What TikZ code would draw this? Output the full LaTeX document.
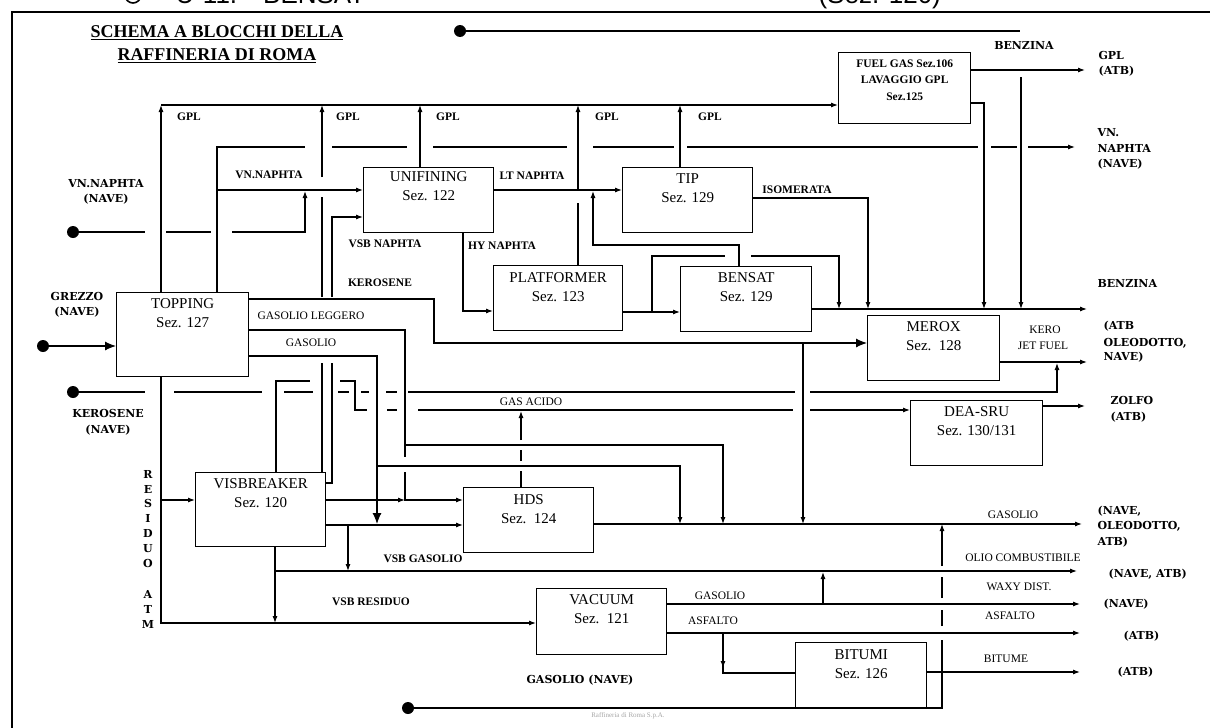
\documentclass[tikz,border=0pt]{standalone}
\usepackage{fontspec}
\setmainfont{Liberation Serif}
\newfontfamily\heavyfont{DejaVu Serif}
\newfontfamily\topfont{Liberation Sans}
\usetikzlibrary{arrows.meta}
\begin{document}
\begin{tikzpicture}[x=1pt,y=-1pt,line width=1.1pt,
  box/.style={draw,line width=1.4pt,inner sep=0pt,anchor=north west},
  btxt/.style={align=center,anchor=north,inner sep=0pt,font=\fontsize{15}{19.5}\selectfont},
  arr/.style={-{Latex[length=7pt,width=5pt]}},
  bigarr/.style={-{Latex[length=11pt,width=9pt]}},
  fl/.style={inner sep=0pt,anchor=mid,font=\fontsize{11.5}{13}\selectfont},
  flb/.style={inner sep=0pt,anchor=mid,font=\fontsize{11.5}{13}\selectfont\bfseries},
  pl/.style={inner sep=0pt,anchor=mid west,font=\heavyfont\bfseries\fontsize{11}{13}\selectfont},
  plc/.style={pl,anchor=mid},
  dot/.style={circle,fill,inner sep=0pt,minimum size=12pt}]
\clip (0,0) rectangle (1210,728);
\useasboundingbox (0,0) rectangle (1210,728);

% frame and cut header
\draw[line width=2pt] (12,728) -- (12,12) -- (1210,12);
\draw[line width=1.6pt] (133,-5) circle (8pt);
\node[anchor=base west,inner sep=0pt,font=\topfont\fontsize{26}{26}\selectfont] (hd1) at (175,4) {U-11.\quad BENSAT};
\node[anchor=base west,inner sep=0pt,font=\topfont\fontsize{26}{26}\selectfont] (hd2) at (818,4) {(Sez. 120)};

% title
\node[inner sep=0pt,anchor=mid,font=\bfseries\fontsize{18}{20}\selectfont] (t1) at (217,35) {\underline{SCHEMA A BLOCCHI DELLA}};
\node[inner sep=0pt,anchor=mid,font=\bfseries\fontsize{18}{20}\selectfont] (t2) at (217,58) {\underline{RAFFINERIA DI ROMA}};

% boxes
\node[box,minimum width=132pt,minimum height=84pt] (top) at (116,292) {};
\node[btxt] at ([yshift=-6pt]top.north) {TOPPING\\Sez. 127};
\node[box,minimum width=130pt,minimum height=65pt] (uni) at (363,167) {};
\node[btxt] at ([yshift=-4pt]uni.north) {UNIFINING\\Sez. 122};
\node[box,minimum width=130pt,minimum height=65pt] (tip) at (622,167) {};
\node[btxt] at ([yshift=-6pt]tip.north) {TIP\\Sez. 129};
\node[box,minimum width=129pt,minimum height=65pt] (plat) at (493,265) {};
\node[btxt] at ([yshift=-7pt]plat.north) {PLATFORMER\\Sez. 123};
\node[box,minimum width=131pt,minimum height=65pt] (bens) at (680,266) {};
\node[btxt] at ([yshift=-6pt]bens.north) {BENSAT\\Sez. 129};
\node[box,minimum width=132pt,minimum height=71pt] (fg) at (838,52) {};
\node[align=center,anchor=north,inner sep=0pt,font=\bfseries\fontsize{11.5}{16.5}\selectfont] at ([yshift=-7pt]fg.north) {FUEL GAS Sez.106\\LAVAGGIO GPL\\Sez.125};
\node[box,minimum width=132pt,minimum height=65pt] (mer) at (867,315) {};
\node[btxt] at ([yshift=-6pt]mer.north) {MEROX\\Sez.\ \ 128};
\node[box,minimum width=132pt,minimum height=65pt] (dea) at (910,400) {};
\node[btxt] at ([yshift=-6pt]dea.north) {DEA-SRU\\Sez. 130/131};
\node[box,minimum width=130pt,minimum height=74pt] (vis) at (195,472) {};
\node[btxt] at ([yshift=-6pt]vis.north) {VISBREAKER\\Sez. 120};
\node[box,minimum width=130pt,minimum height=65pt] (hds) at (463,487) {};
\node[btxt] at ([yshift=-7pt]hds.north) {HDS\\Sez.\ \ 124};
\node[box,minimum width=130pt,minimum height=66pt] (vac) at (536,588) {};
\node[btxt] at ([yshift=-6pt]vac.north) {VACUUM\\Sez.\ \ 121};
\node[box,minimum width=131pt,minimum height=66pt] (bit) at (795,642) {};
\node[btxt] at ([yshift=-7pt]bit.north) {BITUMI\\Sez. 126};

% dots
\node[dot] (d1) at (460,31) {};
\node[dot] (d2) at (73,232) {};
\node[dot] (d3) at (73,392) {};
\node[dot] (d4) at (408,708) {};
\node[dot] (d5) at (43,346) {};

% benzina line at top
\draw (d1.center) -- (1020,31);
\draw[arr] (1021,77) -- (1021,309);

% GPL header
\draw[arr] (161,292) -- (161,105);
\draw[arr] (161,105) -- (838,105);
\draw[arr] (322,472) -- (322,363) (322,297) -- (322,197) (322,177) -- (322,105);
\draw[arr] (420,167) -- (420,105);
\draw[arr] (578,265) -- (578,203) (578,190) -- (578,105);
\draw[arr] (680,167) -- (680,105);

% topping naphtha
\draw[arr] (217,292) -- (217,147) -- (305,147) (332,147) -- (407,147) (433,147) -- (567,147)
  (593,147) -- (674,147) (687,147) -- (978,147) (991,147) -- (1017,147) (1028,147) -- (1075,147);
\draw[arr] (217,190) -- (363,190);
\draw[arr] (d2.center) -- (145,232) (166,232) -- (211,232) (232,232) -- (305,232) -- (305,191);

% vsb naphta
\draw[arr] (325,483) -- (332,483) -- (332,363) (332,297) -- (332,217) -- (363,217);

% gas acido
\draw[arr] (276,472) -- (276,381) -- (310,381) (340,381) -- (355,381) -- (355,410) -- (367,410)
  (387,410) -- (397,410) (418,410) -- (793,410) (810,410) -- (910,410);
\draw[arr] (521,487) -- (521,471) (521,461) -- (521,450) (521,440) -- (521,411);

% kerosene nave
\draw[arr] (d3.center) -- (145,392) (174,392) -- (262,392) (284,392) -- (313,392) (338,392) -- (349,392)
  (361,392) -- (369,392) (386,392) -- (397,392) (408,392) -- (795,392) (810,392) -- (1057,392) -- (1057,363);

% grezzo
\draw[bigarr] (d5.center) -- (116,346);

% topping right outputs
\draw[bigarr] (248,299) -- (434,299) -- (434,343) -- (867,343);
\draw[arr] (248,330) -- (405,330) -- (405,457) (405,472) -- (405,500) -- (463,500);
\draw[bigarr] (248,356) -- (377,356) -- (377,524);
\draw[arr] (405,445) -- (723,445) -- (723,524);
\draw[arr] (377,466) -- (680,466) -- (680,524);
\draw[arr] (803,343) -- (803,524);

% residuo / visbreaker
\draw[arr] (161,376) -- (161,623) -- (536,623);
\draw[arr] (161,500) -- (195,500);
\draw[arr] (325,500) -- (405,500);
\draw[arr] (325,525) -- (463,525);
\draw[arr] (348,525) -- (348,571);
\draw[arr] (275,546) -- (275,623);
\draw[arr] (275,571) -- (1077,571);

% HDS output
\draw[arr] (593,524) -- (1082,524);

% unifining / tip / platformer / bensat
\draw[arr] (493,190) -- (622,190);
\draw[arr] (463,232) -- (463,311) -- (493,311);
\draw[arr] (739,266) -- (739,245) -- (593,245) -- (593,191);
\draw[arr] (752,198) -- (868,198) -- (868,309);
\draw[arr] (622,312) -- (680,312);
\draw[arr] (652,312) -- (652,256) -- (725,256) (751,256) -- (839,256) -- (839,309);
\draw[arr] (811,309) -- (1087,309);

% fuel gas
\draw[arr] (970,70) -- (1085,70);
\draw[arr] (970,103) -- (984,103) -- (984,309);

% merox, dea
\draw[arr] (999,362) -- (1087,362);
\draw[arr] (1042,406) -- (1085,406);

% vacuum / bitumi
\draw[arr] (666,604) -- (1080,604);
\draw[arr] (823,604) -- (823,572);
\draw[arr] (666,633) -- (1080,633);
\draw (723,633) -- (723,673) -- (795,673);
\draw[arr] (723,633) -- (723,668);
\draw[arr] (926,672) -- (1080,672);
\draw[arr] (d4.center) -- (942,708) -- (942,640) (942,626) -- (942,610) (942,598) -- (942,577) (942,566) -- (942,524);

% flow labels
\foreach \xx in {189,348,448,607,710} {\node[flb] at (\xx,118) {GPL};}
\node[flb] at (269,176) {VN.NAPHTA};
\node[flb] at (532,177) {LT NAPHTA};
\node[flb] at (797,191) {ISOMERATA};
\node[flb] at (385,245) {VSB NAPHTA};
\node[flb] at (502,247) {HY NAPHTA};
\node[flb] at (380,284) {KEROSENE};
\node[fl] at (311,317) {GASOLIO LEGGERO};
\node[fl] at (311,344) {GASOLIO};
\node[fl] at (531,403) {GAS ACIDO};
\node[flb] at (423,560) {VSB GASOLIO};
\node[flb] at (371,603) {VSB RESIDUO};
\node[fl] at (720,597) {GASOLIO};
\node[fl] at (713,622) {ASFALTO};
\node[fl] at (1013,516) {GASOLIO};
\node[fl] at (1023,559) {OLIO COMBUSTIBILE};
\node[fl] at (1019,588) {WAXY DIST.};
\node[fl] at (1010,617) {ASFALTO};
\node[fl] at (1006,660) {BITUME};
\node[fl] at (1045,331) {KERO};
\node[fl] at (1043,347) {JET FUEL};

% product labels
\node[plc] at (1024,47) {BENZINA};
\node[pl] at (1098,57) {GPL};
\node[pl] at (1098,72) {(ATB)};
\node[pl] at (1097,134) {VN.};
\node[pl] at (1097,150) {NAPHTA};
\node[pl] at (1097,165) {(NAVE)};
\node[pl] at (1097,285) {BENZINA};
\node[pl] at (1103,327) {(ATB};
\node[pl] at (1103,344) {OLEODOTTO,};
\node[pl] at (1103,358) {NAVE)};
\node[pl] at (1110,402) {ZOLFO};
\node[pl] at (1110,418) {(ATB)};
\node[pl] at (1097,512) {(NAVE,};
\node[pl] at (1097,527) {OLEODOTTO,};
\node[pl] at (1097,543) {ATB)};
\node[pl] at (1108,575) {(NAVE, ATB)};
\node[pl] at (1103,605) {(NAVE)};
\node[pl] at (1123,637) {(ATB)};
\node[pl] at (1117,673) {(ATB)};
\node[plc] at (106,185) {VN.NAPHTA};
\node[plc] at (106,200) {(NAVE)};
\node[plc] at (77,298) {GREZZO};
\node[plc] at (77,313) {(NAVE)};
\node[plc] at (108,415) {KEROSENE};
\node[plc] at (108,431) {(NAVE)};
\node[plc] at (580,681) {GASOLIO (NAVE)};
\foreach \ch/\yy in {R/476,E/491,S/505,I/520,D/535,U/550,O/565,A/596,T/611,M/626}
  {\node[plc] at (148,\yy) {\ch};}
\node[inner sep=0pt,font=\fontsize{7}{8}\selectfont,text=black!35] (wm) at (628,716) {Raffineria di Roma S.p.A.};
\end{tikzpicture}
\end{document}
